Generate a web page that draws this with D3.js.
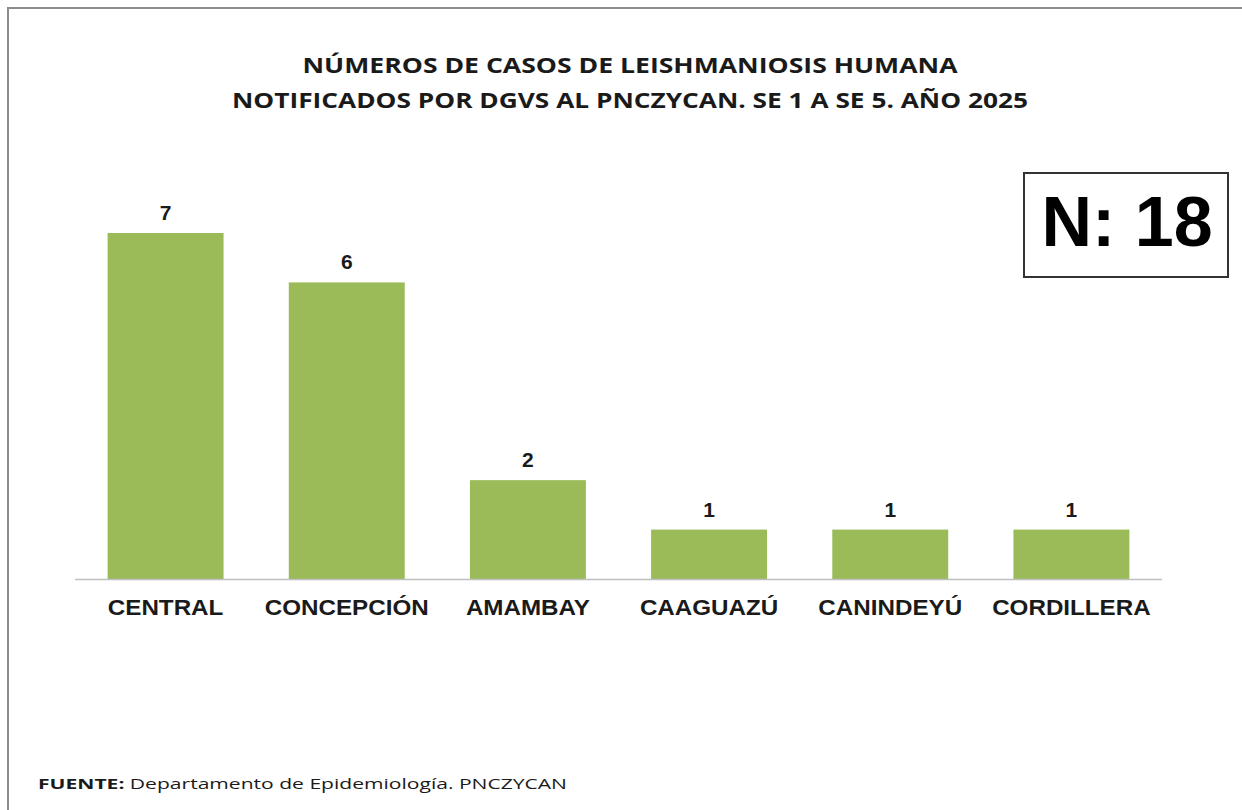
<!DOCTYPE html>
<html lang="es">
<head>
<meta charset="UTF-8">
<title>Leishmaniosis humana 2025</title>
<script src="https://d3js.org/d3.v7.min.js"></script>
<style>
    body { margin: 0; background: #fff; }
    svg { display: block; }
</style>
</head>
<body>
<svg id="chart" width="1242" height="810"></svg>
<script>
    // data
    let departamentos = ["CENTRAL", "CONCEPCIÓN", "AMAMBAY", "CAAGUAZÚ", "CANINDEYÚ", "CORDILLERA"]
    let casos = [7, 6, 2, 1, 1, 1]
    let titulo = ["NÚMEROS DE CASOS DE LEISHMANIOSIS HUMANA",
        "NOTIFICADOS POR DGVS AL PNCZYCAN. SE 1 A SE 5. AÑO 2025"]
    let total = "N: 18"

    let barColor = "#9bbb59"
    let svg = d3.select("#chart")

    // outer frame (only top and left visible in the picture)
    svg.append("path")
        .attr("d", "M8,812 L8,8 L1244,8")
        .attr("fill", "none")
        .attr("stroke", "#8c8c8c")
        .attr("stroke-width", 2)

    // title
    let titleWidths = [655, 796]
    svg.selectAll(".title")
        .data(titulo)
        .enter()
        .append("text")
        .attr("class", "title")
        .attr("x", 630)
        .attr("y", (d, i) => 73 + i * 35)
        .attr("text-anchor", "middle")
        .attr("textLength", (d, i) => titleWidths[i])
        .attr("lengthAdjust", "spacingAndGlyphs")
        .style("font-family", "'Open Sans', sans-serif")
        .style("font-weight", "bold")
        .style("font-size", "22px")
        .attr("fill", "#1a1a1a")
        .text(d => d)

    let x = d3.scaleBand()
        .domain(departamentos)
        .range([75, 1162])
        .paddingInner(0.36)
        .paddingOuter(0.18)

    let y = d3.scaleLinear()
        .domain([0, 7])
        .range([579, 233])

    svg.selectAll(".bar")
        .data(casos)
        .enter()
        .append("rect")
        .attr("class", "bar")
        .attr("x", (d, i) => x(departamentos[i]))
        .attr("y", d => y(d))
        .attr("width", x.bandwidth())
        .attr("height", d => y(0) - y(d))
        .attr("fill", barColor)

    // value labels
    svg.selectAll(".val")
        .data(casos)
        .enter()
        .append("text")
        .attr("class", "val")
        .attr("x", (d, i) => x(departamentos[i]) + x.bandwidth() / 2)
        .attr("y", d => y(d) - 13)
        .attr("text-anchor", "middle")
        .style("font-family", "'Liberation Sans', Arial, sans-serif")
        .style("font-weight", "bold")
        .style("font-size", "21px")
        .attr("fill", "#1a1a1a")
        .text(d => d)

    // x axis
    let xAxis = svg.append("g")
        .attr("transform", "translate(0," + y(0) + ")")
        .call(d3.axisBottom(x).tickSize(0).tickPadding(20))
    xAxis.select(".domain")
        .attr("d", "M75,0.5H1162")
        .attr("stroke", "#bfbfbf")
        .attr("stroke-width", 1.5)
    xAxis.selectAll("text")
        .attr("transform", "scale(1.1,1)")   // labels are a bit wider in the original
        .style("font-family", "'Liberation Sans', Arial, sans-serif")
        .style("font-weight", "bold")
        .style("font-size", "22px")
        .attr("fill", "#1a1a1a")

    // N box
    svg.append("rect")
        .attr("x", 1024)
        .attr("y", 173)
        .attr("width", 204)
        .attr("height", 104)
        .attr("fill", "#fff")
        .attr("stroke", "#333")
        .attr("stroke-width", 2)
    svg.append("text")
        .attr("x", 1127)
        .attr("y", 246)
        .attr("text-anchor", "middle")
        .style("font-family", "'Liberation Sans', Arial, sans-serif")
        .style("font-weight", "bold")
        .style("font-size", "70px")
        .attr("fill", "#000")
        .text(total)

    // footer
    let footer = svg.append("text")
        .attr("x", 38)
        .attr("y", 789)
        .style("font-family", "'Open Sans', sans-serif")
        .style("font-size", "15px")
        .attr("fill", "#1a1a1a")
        .attr("textLength", 529)
        .attr("lengthAdjust", "spacingAndGlyphs")
    footer.append("tspan").style("font-weight", "bold").text("FUENTE:")
    footer.append("tspan").text(" Departamento de Epidemiología. PNCZYCAN")
</script>
</body>
</html>
